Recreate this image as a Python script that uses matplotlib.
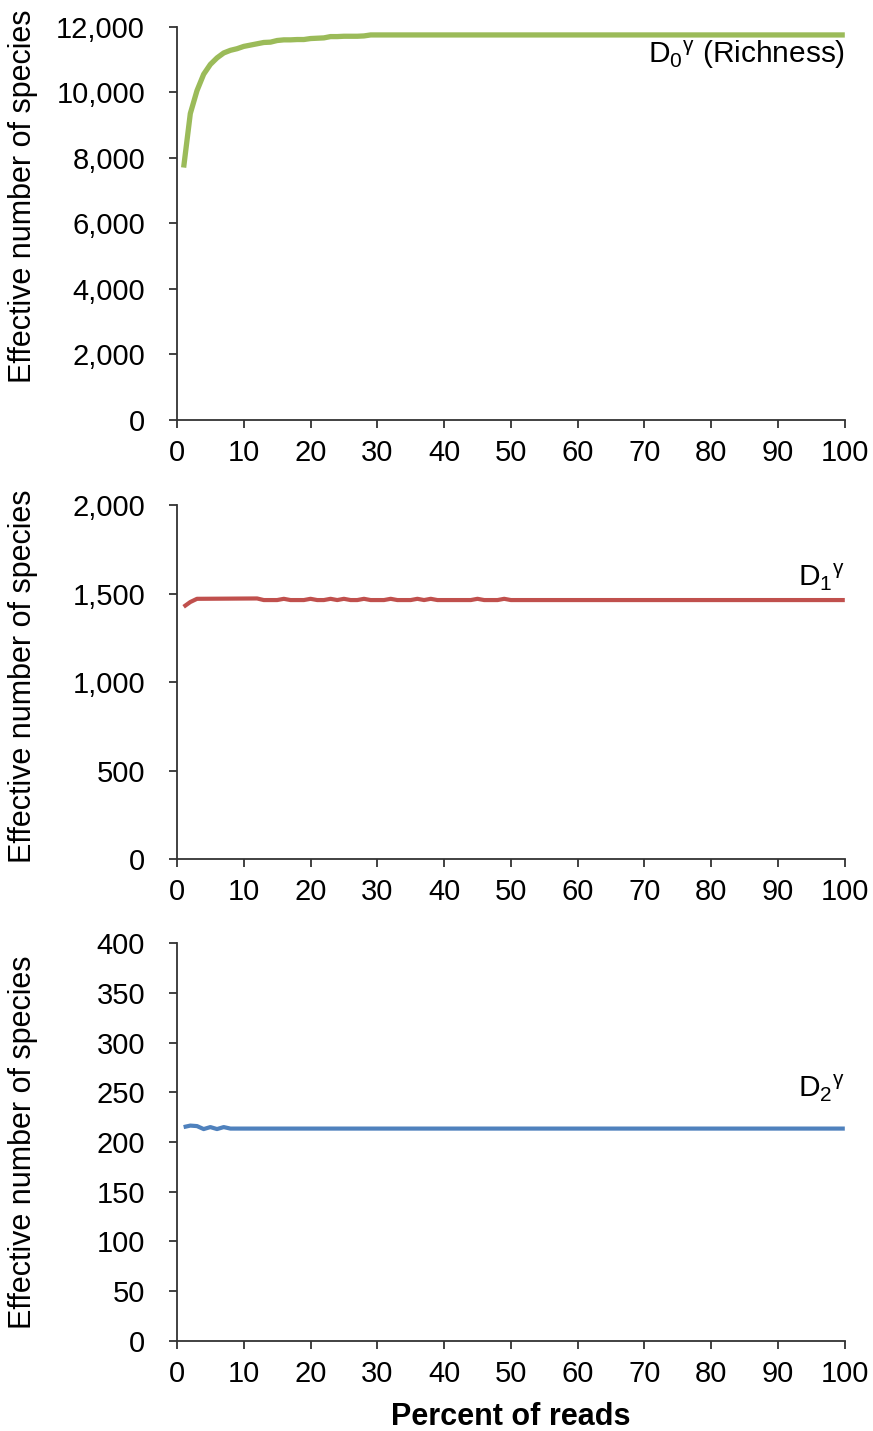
import matplotlib
matplotlib.use('Agg')
import matplotlib.pyplot as plt
from matplotlib.ticker import FuncFormatter

plt.rcParams['font.family'] = ['Liberation Sans', 'DejaVu Sans']
plt.rcParams['mathtext.fontset'] = 'custom'
plt.rcParams['mathtext.rm'] = 'Liberation Sans'
plt.rcParams['mathtext.it'] = 'Liberation Sans'

# percent of reads subsampled and effective number of species
d0_pct = [1, 2, 3, 4, 5, 6, 7, 8, 9, 10, 11, 12, 13, 14, 15, 16, 17, 18, 19, 20,
          21, 22, 23, 24, 25, 26, 27, 28, 29, 30, 100]
d0_val = [7700, 9350, 10050, 10550, 10850, 11050, 11200, 11280, 11330, 11400,
          11440, 11480, 11520, 11530, 11580, 11600, 11600, 11610, 11610, 11640,
          11650, 11660, 11700, 11700, 11710, 11710, 11710, 11720, 11750, 11750, 11750]

d1_pct = [1, 2, 3, 12, 13, 15, 16, 17, 19, 20, 21, 22, 23, 24, 25, 26, 27, 28, 29,
          31, 32, 33, 35, 36, 37, 38, 39, 44, 45, 46, 48, 49, 50, 100]
d1_val = [1425, 1452, 1470, 1472, 1463, 1463, 1470, 1463, 1463, 1470, 1463, 1463,
          1470, 1463, 1470, 1463, 1463, 1470, 1463, 1463, 1470, 1463, 1463, 1470,
          1463, 1470, 1463, 1463, 1470, 1463, 1463, 1470, 1463, 1463]

d2_pct = [1, 2, 3, 4, 5, 6, 7, 8, 100]
d2_val = [215, 216.5, 216, 213, 215, 213, 215, 213.5, 213.5]

panels = [
    (d0_pct, d0_val, '#9BBB59', 3.8, 12000, 2000, r'D$_0$$^{\mathrm{γ}}$ (Richness)', 11150, 0.569),
    (d1_pct, d1_val, '#C0504D', 3.0, 2000, 500, r'D$_1$$^{\mathrm{γ}}$', 1590, 0.517),
    (d2_pct, d2_val, '#4F81BD', 3.0, 400, 50, r'D$_2$$^{\mathrm{γ}}$', 254, 0.5),
]
positions = [
    [0.2027, 0.7067, 0.765, 0.2746],
    [0.2027, 0.3997, 0.765, 0.2474],
    [0.2027, 0.0629, 0.765, 0.2781],
]

fig = plt.figure(figsize=(8.73, 14.31), dpi=100)

for (pct, val, color, lw, ymax, ystep, label, label_y, ylab_y), pos in zip(panels, positions):
    ax = fig.add_axes(pos)
    ax.plot(pct, val, color=color, lw=lw, solid_capstyle='butt')
    ax.set_xlim(0, 100)
    ax.set_ylim(0, ymax)
    ax.set_xticks(range(0, 101, 10))
    ax.set_yticks(range(0, ymax + 1, ystep))
    ax.yaxis.set_major_formatter(FuncFormatter(lambda v, p: f'{int(v):,}'))
    for s in ['top', 'right']:
        ax.spines[s].set_visible(False)
    for s in ['left', 'bottom']:
        ax.spines[s].set_color('#333333')
        ax.spines[s].set_linewidth(1.3)
    ax.tick_params(axis='both', direction='out', length=6, width=1.3,
                   color='#333333', labelsize=21)
    ax.tick_params(axis='x', pad=8)
    ax.tick_params(axis='y', pad=17)
    ax.set_ylabel('Effective number of species', fontsize=22)
    ax.yaxis.set_label_coords(-0.208, ylab_y)
    ax.text(100, label_y, label, fontsize=21.5, ha='right', va='center')

ax.set_xlabel('Percent of reads', fontsize=22, fontweight='bold', labelpad=10)

fig.savefig('out.png', dpi=100)
